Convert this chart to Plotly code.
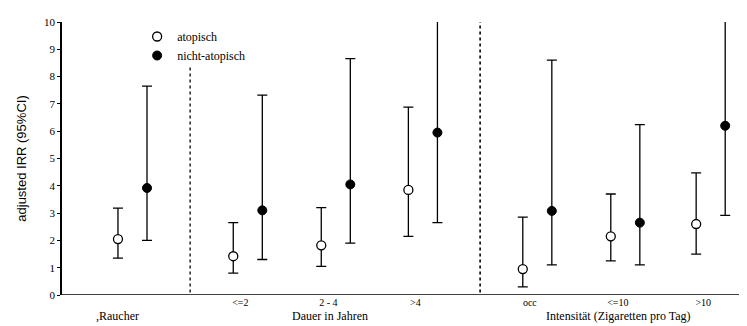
import plotly.graph_objects as go

# ---- data ----
categories = ["Raucher", "<=2", "2 - 4", ">4", "occ", "<=10", ">10"]
cat_pos = [0.0, 1.31, 2.31, 3.30, 4.60, 5.60, 6.57]

atop_irr = [2.05, 1.42, 1.82, 3.85, 0.95, 2.15, 2.60]
atop_lo = [1.35, 0.80, 1.05, 2.15, 0.30, 1.25, 1.50]
atop_hi = [3.18, 2.65, 3.20, 6.88, 2.85, 3.70, 4.47]

nicht_irr = [3.92, 3.10, 4.05, 5.95, 3.08, 2.65, 6.20]
nicht_lo = [2.00, 1.30, 1.90, 2.65, 1.10, 1.10, 2.92]
nicht_hi = [7.65, 7.32, 8.66, 10.6, 8.60, 6.24, 10.6]

group_labels = ["Raucher", "Dauer in Jahren", "Intensität (Zigaretten pro Tag)"]
y_ticks = list(range(0, 11))

offset = 0.33
serif = "Liberation Serif"
sans = "Liberation Sans"

x_atop = cat_pos
x_nicht = [p + offset for p in cat_pos]

fig = go.Figure()
fig.add_trace(go.Scatter(
    x=x_atop, y=atop_irr, mode="markers", name="atopisch",
    marker=dict(symbol="circle", size=9, color="white", line=dict(color="black", width=1.3)),
    error_y=dict(type="data", symmetric=False,
                 array=[h - v for h, v in zip(atop_hi, atop_irr)],
                 arrayminus=[v - l for v, l in zip(atop_irr, atop_lo)],
                 color="black", thickness=1.3, width=5),
))
fig.add_trace(go.Scatter(
    x=x_nicht, y=nicht_irr, mode="markers", name="nicht-atopisch",
    marker=dict(symbol="circle", size=9, color="black", line=dict(color="black", width=1)),
    error_y=dict(type="data", symmetric=False,
                 array=[h - v for h, v in zip(nicht_hi, nicht_irr)],
                 arrayminus=[v - l for v, l in zip(nicht_irr, nicht_lo)],
                 color="black", thickness=1.3, width=5),
))

# separators between groups (midpoints)
sep1 = (x_nicht[0] + x_atop[1]) / 2
sep2 = (x_nicht[3] + x_atop[4]) / 2
fig.add_shape(type="line", xref="x", yref="y", x0=sep1, x1=sep1, y0=-0.35, y1=8.35,
              line=dict(color="black", width=1.3, dash="dot"))
fig.add_shape(type="line", xref="x", yref="y", x0=sep2, x1=sep2, y0=-0.35, y1=10,
              line=dict(color="black", width=1.6, dash="dot"))

# group labels
group_centers = [x_atop[0], (x_atop[1] + x_atop[3]) / 2 + 0.1, (x_atop[4] + x_atop[6]) / 2 + 0.1]
for lab, cx in zip(group_labels, group_centers):
    fig.add_annotation(x=cx, y=0, xref="x", yref="paper", yshift=-21,
                       text=("," + lab) if lab == "Raucher" else lab,
                       showarrow=False, font=dict(family=serif, size=12, color="black"),
                       yanchor="middle")

# page body has an 8px margin: compensate so the plot area sits where the reference has it
fig.update_layout(
    width=747, height=326,
    margin=dict(l=54, r=10, t=8, b=39),
    paper_bgcolor="white", plot_bgcolor="white",
    showlegend=True,
    legend=dict(x=0.11, y=1.0, xanchor="left", yanchor="top",
                font=dict(family=serif, size=12, color="black"),
                bgcolor="rgba(0,0,0,0)", tracegroupgap=0, itemwidth=30),
    xaxis=dict(range=[-0.636, 7.125], showgrid=False, zeroline=False,
               showline=False,
               tickvals=[p + 0.08 for p in cat_pos[1:]], ticktext=categories[1:],
               ticks="", tickfont=dict(family=serif, size=10, color="black")),
    yaxis=dict(range=[0, 10], tickvals=y_ticks, showgrid=False, zeroline=False,
               showline=True, linecolor="black", linewidth=1.5, mirror=False,
               ticks="outside", ticklen=3, tickcolor="black",
               tickfont=dict(family=serif, size=11, color="black"),
               title=dict(text="adjusted IRR (95%CI)", font=dict(family=sans, size=13, color="black"),
                          standoff=14)),
)
# x-axis baseline at y=0
fig.add_shape(type="line", xref="paper", yref="y", x0=0, x1=1, y0=0, y1=0,
              line=dict(color="black", width=1.5))

fig.write_html("out.html")
